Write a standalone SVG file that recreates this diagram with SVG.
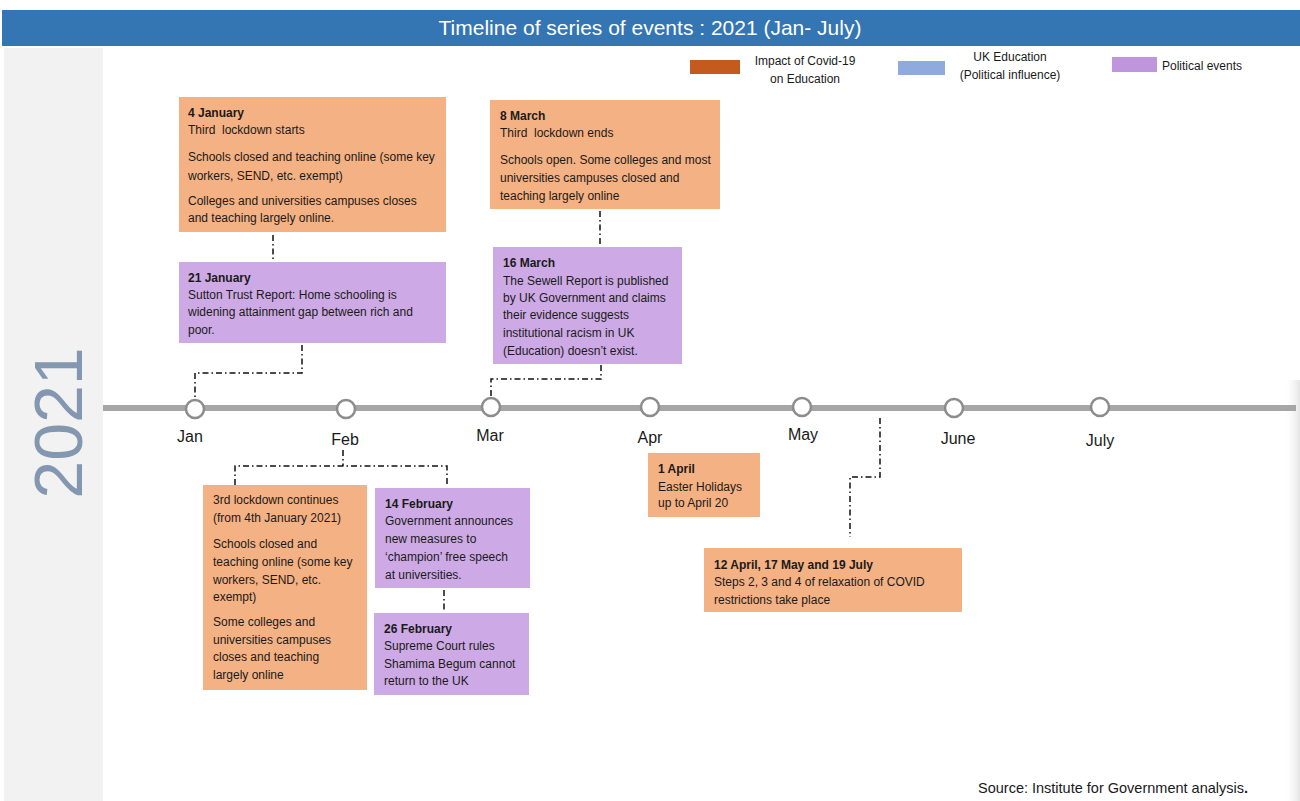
<svg xmlns="http://www.w3.org/2000/svg" width="1300" height="801" viewBox="0 0 1300 801">
<defs>
<style>
text{font-family:"Liberation Sans",Arial,sans-serif;fill:#1a1a1a}
.t{font-size:12px}
.b{font-size:12px;font-weight:bold}
.m{font-size:16px;text-anchor:middle}
.lg{font-size:12px}
.org{fill:#F4B183}
.pur{fill:#CDAAE5}
.conn{fill:none;stroke:#111;stroke-width:1.5;stroke-dasharray:6 3 1.5 3}
.dot{fill:#fff;stroke:#8c8c8c;stroke-width:2.5}
</style>
<linearGradient id="shade" x1="0" x2="1" y1="0" y2="0">
<stop offset="0" stop-color="#fff" stop-opacity="0"/>
<stop offset="1" stop-color="#e3e3e3"/>
</linearGradient>
</defs>
<rect width="1300" height="801" fill="#fff"/>
<rect x="1284" y="380" width="16" height="421" fill="url(#shade)"/>
<g id="header">
<rect x="2" y="10" width="1298" height="36" fill="#3475B3"/>
<text x="650" y="35" style="font-size:21px;fill:#fff;text-anchor:middle">Timeline of series of events : 2021 (Jan- July)</text>
</g>
<g id="year">
<rect x="4" y="48" width="99" height="753" fill="#F2F2F2"/>
<text x="82" y="423" transform="rotate(-90 82 423)" style="font-size:68px;fill:#8497B0;text-anchor:middle">2021</text>
</g>
<g id="legend">
<rect x="690" y="60" width="50" height="14" fill="#C55A1E"/>
<text x="805" y="65" class="lg" text-anchor="middle">Impact of Covid-19</text>
<text x="805" y="83" class="lg" text-anchor="middle">on Education</text>
<rect x="898" y="61" width="47" height="14" fill="#8FAADC"/>
<text x="1010" y="61" class="lg" text-anchor="middle">UK Education</text>
<text x="1010" y="79" class="lg" text-anchor="middle">(Political influence)</text>
<rect x="1112" y="57" width="45" height="15" fill="#BF95DB"/>
<text x="1162" y="70" class="lg">Political events</text>
</g>
<g id="timeline">
<line x1="103" y1="408" x2="1296" y2="408" stroke="#A6A6A6" stroke-width="6"/>
<circle class="dot" cx="195" cy="409" r="9"/>
<circle class="dot" cx="346" cy="409" r="9"/>
<circle class="dot" cx="491" cy="407" r="9"/>
<circle class="dot" cx="650" cy="407" r="9"/>
<circle class="dot" cx="802" cy="407" r="9"/>
<circle class="dot" cx="954" cy="408" r="9"/>
<circle class="dot" cx="1100" cy="407" r="9"/>
<text x="190" y="442" class="m">Jan</text>
<text x="345" y="445" class="m">Feb</text>
<text x="490" y="441" class="m">Mar</text>
<text x="650" y="443" class="m">Apr</text>
<text x="803" y="440" class="m">May</text>
<text x="958" y="444" class="m">June</text>
<text x="1100" y="446" class="m">July</text>
</g>
<g id="connectors">
<path class="conn" d="M273 235V260"/>
<path class="conn" d="M302 345V373H195V400"/>
<path class="conn" d="M600 211V245"/>
<path class="conn" d="M601 365V379H491V398"/>
<path class="conn" d="M343 450V466M235 485V466H447V485"/>
<path class="conn" d="M444 590V612"/>
<path class="conn" d="M880 418V477H850V537"/>
</g>
<g id="n-4jan">
<rect class="org" x="179" y="97" width="267" height="135"/>
<text class="b" x="188" y="117">4 January</text>
<text class="t" x="188" y="134" xml:space="preserve">Third  lockdown starts</text>
<text class="t" x="188" y="161">Schools closed and teaching online (some key</text>
<text class="t" x="188" y="180">workers, SEND, etc. exempt)</text>
<text class="t" x="188" y="205">Colleges and universities campuses closes</text>
<text class="t" x="188" y="222">and teaching largely online.</text>
</g>
<g id="n-21jan">
<rect class="pur" x="179" y="262" width="267" height="81"/>
<text class="b" x="188" y="282">21 January</text>
<text class="t" x="188" y="299">Sutton Trust Report: Home schooling is</text>
<text class="t" x="188" y="316">widening attainment gap between rich and</text>
<text class="t" x="188" y="334">poor.</text>
</g>
<g id="n-8mar">
<rect class="org" x="490" y="100" width="230" height="109"/>
<text class="b" x="500" y="120">8 March</text>
<text class="t" x="500" y="137" xml:space="preserve">Third  lockdown ends</text>
<text class="t" x="500" y="164">Schools open. Some colleges and most</text>
<text class="t" x="500" y="182">universities campuses closed and</text>
<text class="t" x="500" y="200">teaching largely online</text>
</g>
<g id="n-16mar">
<rect class="pur" x="493" y="247" width="189" height="117"/>
<text class="b" x="503" y="267">16 March</text>
<text class="t" x="503" y="285">The Sewell Report is published</text>
<text class="t" x="503" y="302">by UK Government and claims</text>
<text class="t" x="503" y="319">their evidence suggests</text>
<text class="t" x="503" y="337">institutional racism in UK</text>
<text class="t" x="503" y="355">(Education) doesn’t exist.</text>
</g>
<g id="n-feb-lockdown">
<rect class="org" x="203" y="485" width="164" height="205"/>
<text class="t" x="213" y="504">3rd lockdown continues</text>
<text class="t" x="213" y="522">(from 4th January 2021)</text>
<text class="t" x="213" y="548">Schools closed and</text>
<text class="t" x="213" y="566">teaching online (some key</text>
<text class="t" x="213" y="584">workers, SEND, etc.</text>
<text class="t" x="213" y="601">exempt)</text>
<text class="t" x="213" y="626">Some colleges and</text>
<text class="t" x="213" y="644">universities campuses</text>
<text class="t" x="213" y="661">closes and teaching</text>
<text class="t" x="213" y="679">largely online</text>
</g>
<g id="n-14feb">
<rect class="pur" x="375" y="488" width="155" height="100"/>
<text class="b" x="385" y="508">14 February</text>
<text class="t" x="385" y="525">Government announces</text>
<text class="t" x="385" y="543">new measures to</text>
<text class="t" x="385" y="561">‘champion’ free speech</text>
<text class="t" x="385" y="579">at universities.</text>
</g>
<g id="n-26feb">
<rect class="pur" x="374" y="613" width="155" height="82"/>
<text class="b" x="384" y="633">26 February</text>
<text class="t" x="384" y="650">Supreme Court rules</text>
<text class="t" x="384" y="668">Shamima Begum cannot</text>
<text class="t" x="384" y="685">return to the UK</text>
</g>
<g id="n-1apr">
<rect class="org" x="648" y="453" width="112" height="64"/>
<text class="b" x="658" y="473">1 April</text>
<text class="t" x="658" y="491">Easter Holidays</text>
<text class="t" x="658" y="507">up to April 20</text>
</g>
<g id="n-steps">
<rect class="org" x="704" y="548" width="258" height="64"/>
<text class="b" x="714" y="569">12 April, 17 May and 19 July</text>
<text class="t" x="714" y="586">Steps 2, 3 and 4 of relaxation of COVID</text>
<text class="t" x="714" y="604">restrictions take place</text>
</g>
<g id="source">
<text x="978" y="793" style="font-size:14.5px">Source: Institute for Government analysis<tspan font-weight="bold">.</tspan></text>
</g>
</svg>
